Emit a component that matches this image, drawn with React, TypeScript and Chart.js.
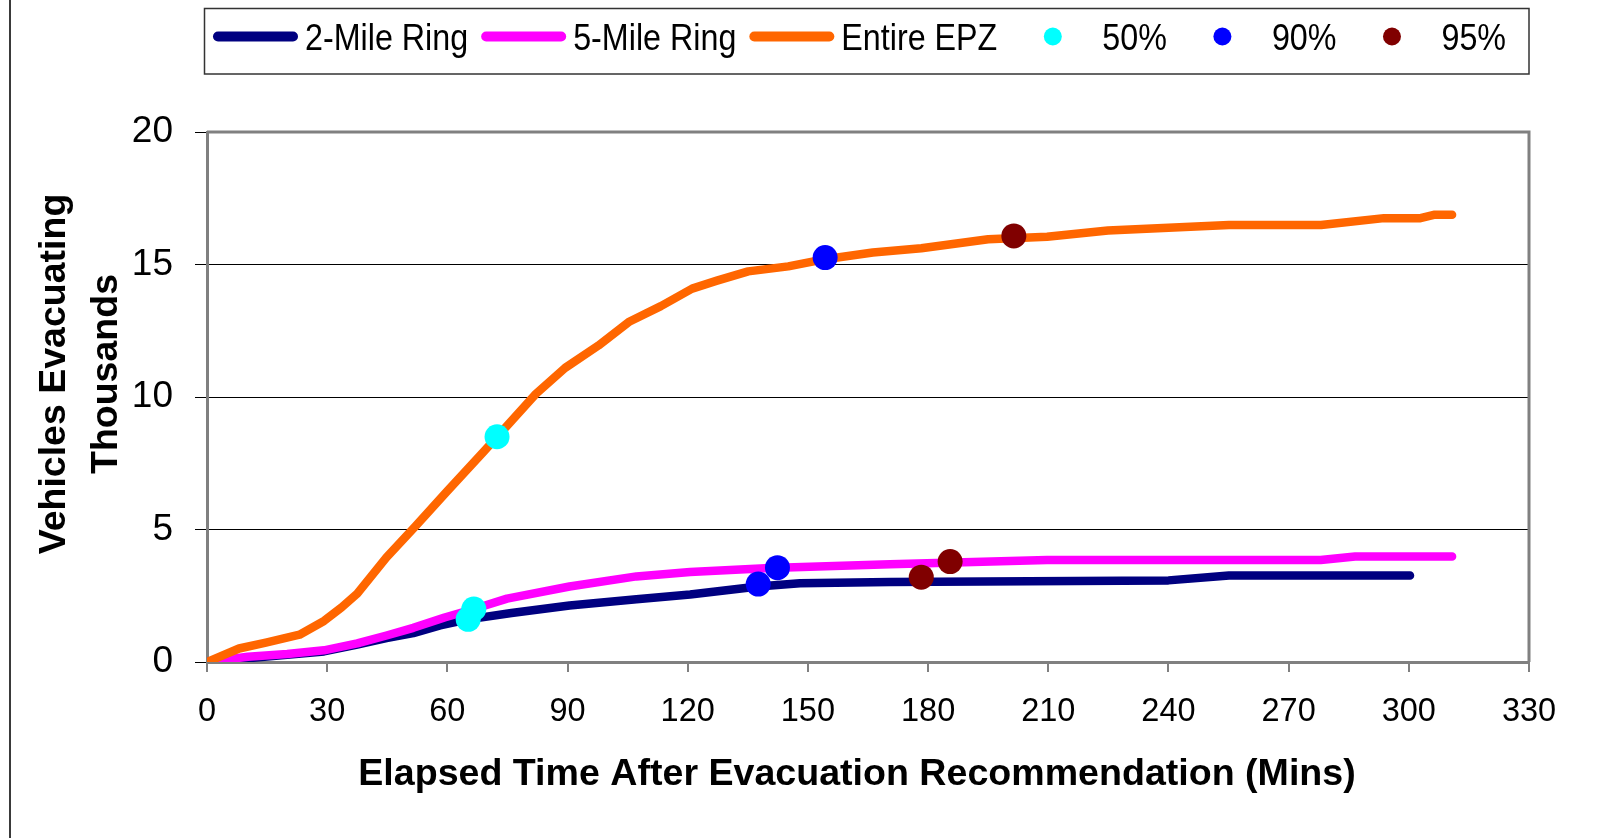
import { useEffect, useRef } from "react";
import { Chart, registerables } from "chart.js";

Chart.register(...registerables);

// Cumulative vehicles evacuating (thousands) vs elapsed minutes
const seriesLabels = ["2-Mile Ring", "5-Mile Ring", "Entire EPZ"];
const markerLabels = ["50%", "90%", "95%"];

const twoMileMinutes = [0, 10, 20, 29.2, 37.5, 44.8, 51.5, 58.2, 65.2, 76, 90.5, 107.2, 120.6, 137.6, 148, 170.5, 240, 255.1, 300.3];
const twoMileThousands = [0, 0.14, 0.27, 0.4, 0.66, 0.9, 1.09, 1.38, 1.61, 1.85, 2.13, 2.37, 2.55, 2.85, 2.97, 3.02, 3.08, 3.26, 3.26];

const fiveMileMinutes = [0, 10.2, 20, 29.2, 37.5, 44.8, 51.5, 59.3, 66.6, 74.9, 90.5, 107.2, 120.6, 140.6, 170.5, 209.7, 278, 286.6, 310.8];
const fiveMileThousands = [0, 0.2, 0.3, 0.44, 0.7, 1.0, 1.29, 1.68, 2.0, 2.39, 2.85, 3.23, 3.4, 3.55, 3.69, 3.85, 3.85, 3.98, 3.98];

const epzMinutes = [0, 8, 14.7, 23.1, 29.2, 33.6, 37.5, 44.8, 52, 59.8, 69.3, 82.1, 89.4, 97.7, 105.5, 113.3, 121.1, 127.3, 135.1, 145.1, 154.3, 166.2, 178.3, 195, 209.7, 224.9, 255.1, 278.1, 293.8, 302.9, 306.5, 310.8];
const epzThousands = [0, 0.51, 0.73, 1.03, 1.55, 2.06, 2.58, 3.95, 5.12, 6.42, 7.98, 10.12, 11.1, 11.94, 12.85, 13.43, 14.09, 14.39, 14.74, 14.93, 15.2, 15.45, 15.61, 15.95, 16.05, 16.28, 16.49, 16.49, 16.75, 16.75, 16.88, 16.88];

// Time at which 50% / 90% / 95% of each area's vehicles have left (2-mile, 5-mile, EPZ)
const pct50Minutes = [65.2, 66.6, 72.4];
const pct50Thousands = [1.61, 2.0, 8.5];
const pct90Minutes = [137.6, 142.4, 154.3];
const pct90Thousands = [2.94, 3.56, 15.26];
const pct95Minutes = [178.3, 185.5, 201.4];
const pct95Thousands = [3.2, 3.79, 16.08];

const xTickStep = 30;
const xMax = 330;
const yTickStep = 5;
const yMax = 20;

const xTitle = "Elapsed Time After Evacuation Recommendation (Mins)";
const yTitleLines = ["Vehicles Evacuating", "Thousands"];

const FONT = '"Liberation Sans", Arial, Helvetica, sans-serif';
const AXIS_GRAY = "#808080";

const toPoints = (xs: number[], ys: number[]) => xs.map((x, i) => ({ x, y: ys[i] }));

const decorPlugin = {
  id: "decor",
  beforeDraw(chart: any) {
    const { ctx, width, height } = chart;
    ctx.save();
    ctx.fillStyle = "#ffffff";
    ctx.fillRect(0, 0, width, height);
    ctx.restore();
  },
  beforeDatasetsDraw(chart: any) {
    const { ctx, chartArea } = chart;
    ctx.save();
    ctx.strokeStyle = AXIS_GRAY;
    ctx.lineWidth = 3;
    ctx.beginPath();
    ctx.moveTo(chartArea.left, chartArea.top);
    ctx.lineTo(chartArea.right, chartArea.top);
    ctx.lineTo(chartArea.right, chartArea.bottom);
    ctx.stroke();
    ctx.restore();
  },
  afterDraw(chart: any) {
    const { ctx, height } = chart;
    ctx.save();

    // outer frame edge
    ctx.strokeStyle = "#3a3a3a";
    ctx.lineWidth = 2;
    ctx.beginPath();
    ctx.moveTo(10, 0);
    ctx.lineTo(10, height);
    ctx.stroke();

    // axis titles
    ctx.fillStyle = "#000";
    ctx.font = `bold 37.6px ${FONT}`;
    ctx.textAlign = "center";
    ctx.textBaseline = "alphabetic";
    ctx.fillText(xTitle, 857, 785);

    ctx.font = `bold 37.5px ${FONT}`;
    const yMid = 374;
    const baselines = [65, 116.5];
    yTitleLines.forEach((line, i) => {
      ctx.save();
      ctx.translate(baselines[i], yMid);
      ctx.rotate(-Math.PI / 2);
      ctx.fillText(line, 0, 0);
      ctx.restore();
    });

    // legend
    const boxL = 204.5, boxT = 8.5, boxR = 1529, boxB = 74;
    ctx.strokeStyle = "#333";
    ctx.lineWidth = 1.5;
    ctx.strokeRect(boxL, boxT, boxR - boxL, boxB - boxT);

    const squeeze = 0.872;
    const sampleW = 85;
    const midY = 36.5;
    const baseY = 49.5;
    ctx.font = `37px ${FONT}`;
    ctx.textAlign = "left";
    let x = 213;
    chart.data.datasets.forEach((ds: any) => {
      const color = ds.borderColor;
      if (ds.showLine) {
        ctx.strokeStyle = color;
        ctx.lineWidth = 10;
        ctx.lineCap = "round";
        ctx.beginPath();
        ctx.moveTo(x + 5, midY);
        ctx.lineTo(x + sampleW - 5, midY);
        ctx.stroke();
      } else {
        ctx.fillStyle = color;
        ctx.beginPath();
        ctx.arc(x + sampleW / 2, midY, 9, 0, Math.PI * 2);
        ctx.fill();
      }
      const tx = x + sampleW + 7;
      const tw = ctx.measureText(ds.label).width * squeeze;
      ctx.fillStyle = "#000";
      ctx.save();
      ctx.translate(tx, baseY);
      ctx.scale(squeeze, 1);
      ctx.fillText(ds.label, 0, 0);
      ctx.restore();
      x = tx + tw + 13;
    });

    ctx.restore();
  },
};

export default function App() {
  const canvasRef = useRef<HTMLCanvasElement | null>(null);

  useEffect(() => {
    const canvas = canvasRef.current;
    if (!canvas) return;

    const lineStyle = {
      showLine: true,
      pointRadius: 0,
      pointHoverRadius: 0,
      borderWidth: 8.5,
      borderCapStyle: "round",
      borderJoinStyle: "round",
      tension: 0,
      fill: false,
    };
    const markerStyle = {
      showLine: false,
      pointRadius: 12.5,
      pointHoverRadius: 12.5,
      borderWidth: 0,
    };

    const chart = new Chart(canvas, {
      type: "scatter",
      data: {
        datasets: [
          { ...lineStyle, label: seriesLabels[0], data: toPoints(twoMileMinutes, twoMileThousands), borderColor: "#000080", backgroundColor: "#000080", order: 6 },
          { ...lineStyle, label: seriesLabels[1], data: toPoints(fiveMileMinutes, fiveMileThousands), borderColor: "#FF00FF", backgroundColor: "#FF00FF", order: 5 },
          { ...lineStyle, label: seriesLabels[2], data: toPoints(epzMinutes, epzThousands), borderColor: "#FF6600", backgroundColor: "#FF6600", order: 4 },
          { ...markerStyle, label: markerLabels[0], data: toPoints(pct50Minutes, pct50Thousands), borderColor: "#00FFFF", backgroundColor: "#00FFFF", order: 3 },
          { ...markerStyle, label: markerLabels[1], data: toPoints(pct90Minutes, pct90Thousands), borderColor: "#0000FF", backgroundColor: "#0000FF", order: 2 },
          { ...markerStyle, label: markerLabels[2], data: toPoints(pct95Minutes, pct95Thousands), borderColor: "#800000", backgroundColor: "#800000", order: 1 },
        ] as any,
      },
      options: {
        responsive: false,
        animation: false,
        devicePixelRatio: 1,
        layout: { padding: { top: 132, right: 73, left: 0, bottom: 0 } },
        plugins: {
          legend: { display: false },
          tooltip: { enabled: false },
        },
        scales: {
          x: {
            type: "linear",
            min: 0,
            max: xMax,
            afterFit: (scale: any) => {
              scale.height = 176;
            },
            border: { display: true, color: AXIS_GRAY, width: 3 },
            grid: {
              drawOnChartArea: false,
              drawTicks: true,
              tickLength: 10,
              color: AXIS_GRAY,
              lineWidth: 2,
            },
            ticks: {
              stepSize: xTickStep,
              autoSkip: false,
              maxRotation: 0,
              padding: 21,
              color: "#000",
              font: { family: FONT, size: 32.5 },
            },
            title: { display: false },
          },
          y: {
            type: "linear",
            min: 0,
            max: yMax,
            afterFit: (scale: any) => {
              scale.width = 207;
            },
            border: { display: true, color: AXIS_GRAY, width: 3 },
            grid: {
              drawTicks: true,
              tickLength: 12,
              color: "#000",
              lineWidth: 1,
              tickColor: "#000",
              tickWidth: 1,
            },
            ticks: {
              stepSize: yTickStep,
              padding: 22,
              color: "#000",
              font: { family: FONT, size: 37 },
            },
            title: { display: false },
          },
        },
      } as any,
      plugins: [decorPlugin],
    });

    return () => chart.destroy();
  }, []);

  return (
    <div style={{ position: "fixed", left: 0, top: 0, width: 1602, height: 838, background: "#fff" }}>
      <canvas ref={canvasRef} width={1602} height={838} style={{ display: "block", width: 1602, height: 838 }} />
    </div>
  );
}
